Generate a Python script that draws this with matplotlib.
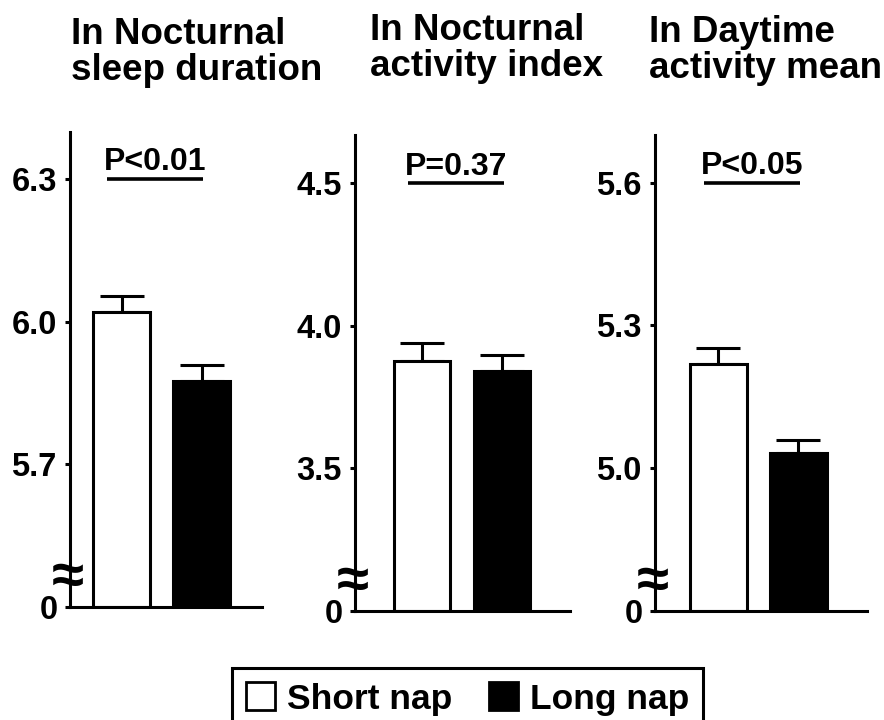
import matplotlib
matplotlib.use('Agg')
import matplotlib.pyplot as plt
from matplotlib.patches import Patch

plt.rcParams['font.family'] = ['Liberation Sans', 'DejaVu Sans']
plt.rcParams['font.weight'] = 'bold'

# 數據
groups = ['Short nap', 'Long nap']
titles = [['In Nocturnal', 'sleep duration'],
          ['In Nocturnal', 'activity index'],
          ['In Daytime', 'activity mean']]
sleep_duration = [6.021, 5.876]
sleep_duration_sem = [0.034, 0.033]
activity_index = [3.878, 3.843]
activity_index_sem = [0.063, 0.054]
daytime_mean = [5.218, 5.032]
daytime_mean_sem = [0.034, 0.026]
p_labels = ['P<0.01', 'P=0.37', 'P<0.05']
y_ticks = [[5.7, 6.0, 6.3], [3.5, 4.0, 4.5], [5.0, 5.3, 5.6]]
y_break = [5.4, 3.0, 4.7]
y_top = [6.4, 4.67, 5.7]

means = [sleep_duration, activity_index, daytime_mean]
sems = [sleep_duration_sem, activity_index_sem, daytime_mean_sem]

W, H = 884, 720
fig = plt.figure(figsize=(W / 100, H / 100), dpi=100)

# 版面 (像素: 左, 右, 下, 上)
boxes = [(70, 262, 606.7, 131.7), (355, 570, 610.7, 135), (654.7, 867, 610.7, 135)]
xlims = [(0.356, 2.756), (0.1625, 2.85), (0.206, 2.86)]
title_pos = [(71, 44, 80), (370, 40, 76), (649, 42, 78)]

x = [1, 2]
lw = 2.2

for i in range(3):
    l, r, b, t = boxes[i]
    ax = fig.add_axes([l / W, 1 - b / H, (r - l) / W, (b - t) / H])

    heights = [v - y_break[i] for v in means[i]]
    ax.bar(x, heights, bottom=y_break[i], width=0.71, color=['white', 'black'],
           edgecolor='black', linewidth=lw, zorder=2)
    ax.errorbar(x, means[i], yerr=[[0, 0], sems[i]], fmt='none', ecolor='black',
                elinewidth=lw, capsize=16, capthick=lw, zorder=1)

    ax.set_xlim(*xlims[i])
    ax.set_ylim(y_break[i], y_top[i])
    ax.set_xticks([])
    ax.set_yticks([y_break[i]] + y_ticks[i])
    ax.set_yticklabels([''] + ['%.1f' % v for v in y_ticks[i]])
    ax.tick_params(axis='y', direction='out', length=3.6, width=lw, pad=6,
                   labelsize=23.5)

    for s in ['top', 'right']:
        ax.spines[s].set_visible(False)
    for s in ['left', 'bottom']:
        ax.spines[s].set_linewidth(lw)

    # 斷軸符號和 0
    ax.annotate('0', xy=(0, y_break[i]), xycoords=('axes fraction', 'data'),
                xytext=(-8.5, -2.4), textcoords='offset points',
                ha='right', va='center', fontsize=23.5)
    ax.annotate('\u2248', xy=(0, y_break[i]), xycoords=('axes fraction', 'data'),
                xytext=(-1.4, 20), textcoords='offset points',
                ha='center', va='center', fontsize=42, annotation_clip=False)

    # P 值
    ytop = y_ticks[i][-1]
    ax.plot([x[0] - 0.18, x[1] + 0.02], [ytop, ytop], color='black', lw=2.6,
            solid_capstyle='butt', clip_on=False)
    ax.annotate(p_labels[i], xy=((x[0] - 0.18 + x[1] + 0.02) / 2, ytop),
                xytext=(0, 6.3), textcoords='offset points',
                ha='center', va='baseline', fontsize=23)

    # 標題
    tx, b1, b2 = title_pos[i]
    fig.text(tx / W, 1 - b1 / H, titles[i][0], ha='left', va='baseline', fontsize=26.5)
    fig.text(tx / W, 1 - b2 / H, titles[i][1], ha='left', va='baseline', fontsize=26.5)

# 圖例
handles = [Patch(facecolor='white', edgecolor='black', linewidth=2),
           Patch(facecolor='black', edgecolor='black', linewidth=2)]
leg = fig.legend(handles=handles, labels=groups, ncol=2, loc='upper left',
                 bbox_to_anchor=(232 / W, 1 - 668 / H), frameon=True, fancybox=False,
                 framealpha=1, edgecolor='black', borderaxespad=0,
                 handlelength=0.8, handleheight=0.85, handletextpad=0.35,
                 columnspacing=1.05, borderpad=0.4, fontsize=25.5)
leg.get_frame().set_linewidth(lw)

plt.savefig('out.png', dpi=100)
